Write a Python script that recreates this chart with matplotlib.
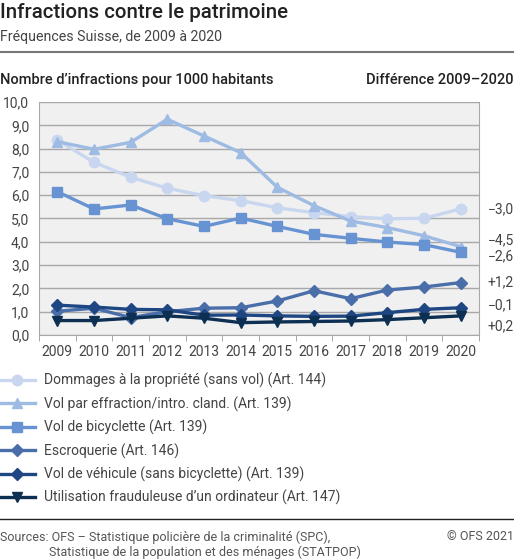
import numpy as np
import matplotlib.pyplot as plt
from matplotlib.lines import Line2D
from matplotlib.ticker import FixedLocator

years = [2009, 2010, 2011, 2012, 2013, 2014, 2015, 2016, 2017, 2018, 2019, 2020]

dommages = [8.37, 7.41, 6.77, 6.30, 5.98, 5.77, 5.46, 5.25, 5.08, 4.99, 5.01, 5.41]
effraction = [8.30, 7.97, 8.27, 9.26, 8.54, 7.83, 6.34, 5.55, 4.89, 4.61, 4.26, 3.79]
bicyclette = [6.15, 5.41, 5.58, 4.99, 4.66, 5.02, 4.66, 4.32, 4.15, 3.99, 3.88, 3.55]
escroquerie = [1.02, 1.15, 0.75, 1.00, 1.15, 1.17, 1.46, 1.90, 1.56, 1.93, 2.06, 2.25]
vehicule = [1.28, 1.20, 1.10, 1.08, 0.85, 0.86, 0.82, 0.80, 0.81, 0.96, 1.10, 1.17]
ordinateur = [0.62, 0.62, 0.72, 0.82, 0.72, 0.53, 0.56, 0.58, 0.60, 0.66, 0.74, 0.82]

labels = [
    "Dommages à la propriété (sans vol) (Art. 144)",
    "Vol par effraction/intro. cland. (Art. 139)",
    "Vol de bicyclette (Art. 139)",
    "Escroquerie (Art. 146)",
    "Vol de véhicule (sans bicyclette) (Art. 139)",
    "Utilisation frauduleuse d\u2019un ordinateur (Art. 147)",
]
series = [dommages, effraction, bicyclette, escroquerie, vehicule, ordinateur]
colors = ["#c8d7ef", "#9ebbe3", "#6893d3", "#4a6ea9", "#1e4682", "#0c2f52"]
markers = ["o", "^", "s", "D", "D", "v"]

diff_labels = ["\u22123,0", "\u22124,5", "\u22122,6", "+1,2", "\u22120,1", "+0,2"]
diff_pos = [5.4, 4.08, 3.39, 2.25, 1.29, 0.39]

plt.rcParams["font.family"] = ["Roboto", "DejaVu Sans"]

W, H = 514, 559
fig = plt.figure(figsize=(W / 100, H / 100), dpi=100)

def fx(px):
    return px / W

def fy(py):
    return 1 - py / H

ax = fig.add_axes([fx(39), fy(335), fx(479) - fx(39), fy(102) - fy(335)])
ax.set_facecolor("#f0f0f0")

x = np.arange(len(years))
for vals, c, m, lab in zip(series, colors, markers, labels):
    ms = 6.5 if m == "D" else 7.5
    ax.plot(x, vals, color=c, lw=2.4, marker=m, ms=ms, label=lab, zorder=3,
            solid_joinstyle="round")

ax.set_xlim(-0.5, len(years) - 0.5)
ax.set_ylim(0, 10)
ax.set_yticks(np.arange(0, 11, 1))
ax.set_yticklabels([f"{v:.1f}".replace(".", ",") for v in range(0, 11)])
ax.set_xticks(x)
ax.set_xticklabels([str(y) for y in years])
ax.xaxis.set_minor_locator(FixedLocator(np.arange(-0.5, len(years), 1)))
ax.tick_params(axis="x", which="major", length=0, labelsize=10, colors="#444444", pad=7)
ax.tick_params(axis="x", which="minor", length=4, color="#999999", direction="out")
ax.tick_params(axis="y", length=0, labelsize=10, colors="#444444", pad=7)
ax.grid(axis="y", color="#a8a8a8", lw=1)
ax.set_axisbelow(True)
for s in ["left", "right", "bottom", "top"]:
    ax.spines[s].set_color("#a8a8a8")
ax.spines["top"].set_visible(False)

for lab, p in zip(diff_labels, diff_pos):
    ax.annotate(lab, xy=(1, p), xycoords=("axes fraction", "data"),
                xytext=(W - 479, 0), textcoords="offset pixels",
                ha="right", va="center", fontsize=10, color="#444444")

# titles
fig.text(fx(0), fy(13), "Infractions contre le patrimoine", fontsize=14.8,
         fontweight="medium", color="#222222", va="center", ha="left")
fig.text(fx(0), fy(37), "Fréquences Suisse, de 2009 à 2020", fontsize=10.2,
         color="#444444", va="center", ha="left")
fig.add_artist(Line2D([0, 1], [fy(52), fy(52)], color="#777777", lw=1.5))
fig.text(fx(0), fy(80), "Nombre d\u2019infractions pour 1000 habitants", fontsize=10.5,
         fontweight="medium", color="#222222", va="center", ha="left")
fig.text(fx(514), fy(80), "Différence 2009\u20132020", fontsize=10.5,
         fontweight="medium", color="#222222", va="center", ha="right")

# legend
handles, labs = ax.get_legend_handles_labels()
leg = fig.legend(handles, labs, loc="upper left", bbox_to_anchor=(fx(0), fy(373)),
                 frameon=False, fontsize=10, handlelength=2.5, handletextpad=0.7,
                 labelspacing=0.58, borderpad=0, borderaxespad=0)
for t in leg.get_texts():
    t.set_color("#444444")

# footer
fig.add_artist(Line2D([0, 1], [fy(519), fy(519)], color="#222222", lw=1))
fig.text(fx(0), fy(537), "Sources: OFS \u2013 Statistique policière de la criminalité (SPC),",
         fontsize=9, color="#555555", va="center", ha="left")
fig.text(fx(49), fy(552), "Statistique de la population et des ménages (STATPOP)",
         fontsize=9, color="#555555", va="center", ha="left")
fig.text(fx(514), fy(537), "© OFS 2021", fontsize=9, color="#555555",
         va="center", ha="right")

fig.savefig("out.png", dpi=100)
